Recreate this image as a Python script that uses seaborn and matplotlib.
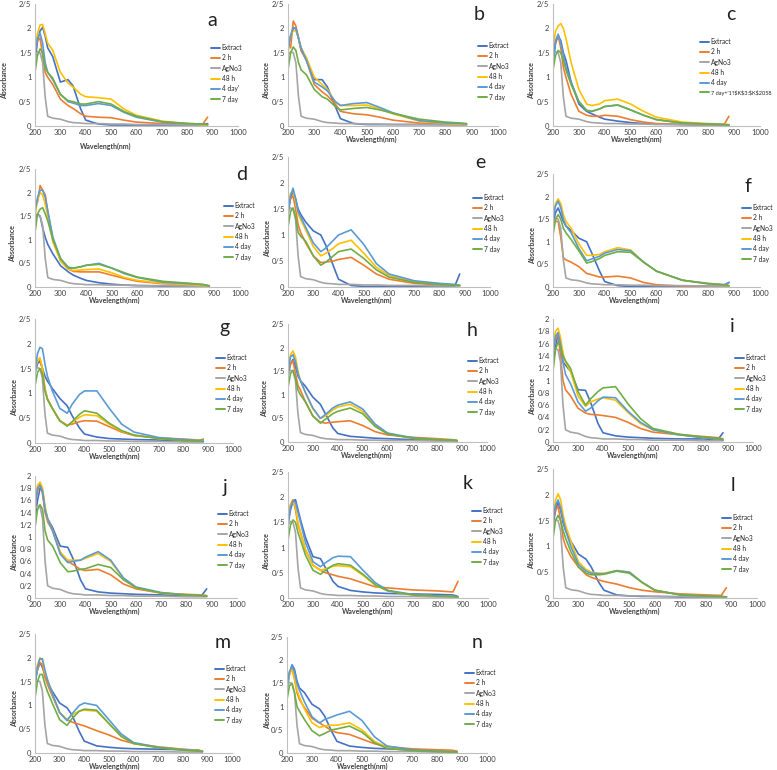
import numpy as np
import pandas as pd
import matplotlib.pyplot as plt
from matplotlib.lines import Line2D
import seaborn as sns

# wavelength grid (nm) the values were read at
WL = [200, 210, 220, 230, 240, 250, 270, 300, 330, 350, 380, 400, 450, 500, 550, 600, 700, 800, 860, 880]
SERIES = ["Extract", "2 h", "AgNo3", "48 h", "4 day", "7 day"]
COLORS = ["#4472C4", "#ED7D31", "#A5A5A5", "#FFC000", "#5B9BD5", "#70AD47"]

# silver nitrate control, same in every panel
AGNO3 = [1.45, 1.52, 1.5, 1.3, 0.6, 0.2, 0.16, 0.14, 0.09, 0.07, 0.06, 0.05, 0.05, 0.04, 0.04, 0.03, 0.03, 0.02, 0.02, 0.02]

panel_a = {
    "Extract": [1.3, 1.75, 1.95, 2.02, 1.85, 1.6, 1.42, 0.9, 0.95, 0.82, 0.35, 0.12, 0.04, 0.02, 0.02, 0.02, 0.02, 0.02, 0.03, 0.05],
    "2 h": [1.5, 1.75, 1.8, 1.45, 1.1, 1.0, 0.85, 0.55, 0.42, 0.36, 0.25, 0.2, 0.18, 0.17, 0.12, 0.08, 0.05, 0.04, 0.03, 0.18],
    "48 h": [1.6, 1.9, 2.07, 2.08, 1.9, 1.7, 1.55, 1.1, 0.88, 0.8, 0.65, 0.6, 0.58, 0.55, 0.35, 0.22, 0.1, 0.05, 0.03, 0.02],
    "4 day": [1.5, 1.8, 1.9, 1.7, 1.3, 1.1, 0.95, 0.65, 0.5, 0.47, 0.42, 0.42, 0.46, 0.42, 0.28, 0.18, 0.08, 0.05, 0.04, 0.03],
    "7 day": [1.1, 1.45, 1.58, 1.5, 1.2, 1.1, 0.98, 0.65, 0.52, 0.5, 0.45, 0.45, 0.5, 0.45, 0.3, 0.2, 0.09, 0.05, 0.04, 0.03],
}
panel_b = {
    "Extract": [1.6, 1.85, 2.0, 2.0, 1.8, 1.55, 1.35, 0.95, 0.95, 0.8, 0.4, 0.15, 0.05, 0.03, 0.03, 0.03, 0.03, 0.03, 0.03, 0.03],
    "2 h": [1.75, 1.6, 2.15, 2.05, 1.8, 1.55, 1.35, 0.85, 0.7, 0.62, 0.45, 0.3, 0.25, 0.23, 0.18, 0.12, 0.06, 0.04, 0.03, 0.03],
    "48 h": [1.5, 1.85, 1.95, 1.95, 1.8, 1.6, 1.4, 1.0, 0.85, 0.75, 0.5, 0.42, 0.42, 0.43, 0.35, 0.25, 0.1, 0.05, 0.04, 0.03],
    "4 day": [1.55, 1.85, 2.02, 2.0, 1.8, 1.6, 1.35, 0.9, 0.8, 0.72, 0.5, 0.42, 0.46, 0.48, 0.38, 0.27, 0.11, 0.06, 0.05, 0.04],
    "7 day": [1.15, 1.5, 1.62, 1.55, 1.3, 1.15, 1.05, 0.75, 0.6, 0.55, 0.4, 0.33, 0.36, 0.38, 0.33, 0.26, 0.14, 0.08, 0.06, 0.05],
}
panel_c = {
    "Extract": [1.3, 1.7, 1.85, 1.75, 1.5, 1.35, 0.9, 0.45, 0.3, 0.25, 0.18, 0.14, 0.1, 0.07, 0.05, 0.04, 0.03, 0.02, 0.02, 0.02],
    "2 h": [1.5, 1.75, 1.85, 1.6, 1.2, 1.0, 0.65, 0.3, 0.22, 0.2, 0.2, 0.22, 0.2, 0.13, 0.08, 0.05, 0.03, 0.02, 0.02, 0.2],
    "48 h": [1.6, 1.95, 2.05, 2.1, 2.0, 1.8, 1.3, 0.75, 0.45, 0.42, 0.45, 0.52, 0.55, 0.45, 0.3, 0.18, 0.08, 0.05, 0.04, 0.03],
    "4 day": [1.3, 1.75, 1.88, 1.7, 1.45, 1.2, 0.9, 0.5, 0.32, 0.3, 0.35, 0.4, 0.43, 0.33, 0.22, 0.13, 0.06, 0.04, 0.03, 0.02],
    "7 day": [1.15, 1.45, 1.55, 1.5, 1.35, 1.15, 0.85, 0.5, 0.32, 0.3, 0.35, 0.4, 0.43, 0.33, 0.22, 0.13, 0.06, 0.04, 0.03, 0.02],
}
panel_d = {
    "Extract": [1.45, 1.55, 1.5, 1.25, 1.05, 0.9, 0.7, 0.45, 0.32, 0.25, 0.18, 0.14, 0.09, 0.06, 0.04, 0.03, 0.02, 0.02, 0.02, 0.02],
    "2 h": [1.7, 1.8, 2.15, 2.05, 1.95, 1.6, 1.0, 0.55, 0.38, 0.33, 0.32, 0.32, 0.32, 0.25, 0.18, 0.12, 0.07, 0.05, 0.04, 0.03],
    "48 h": [1.5, 1.85, 2.0, 1.95, 1.75, 1.5, 0.95, 0.55, 0.38, 0.35, 0.36, 0.37, 0.38, 0.3, 0.2, 0.14, 0.08, 0.05, 0.03, 0.02],
    "4 day": [1.6, 1.9, 2.05, 2.05, 1.9, 1.6, 1.05, 0.6, 0.42, 0.4, 0.43, 0.46, 0.5, 0.4, 0.28, 0.2, 0.1, 0.07, 0.05, 0.02],
    "7 day": [1.15, 1.55, 1.65, 1.68, 1.55, 1.4, 1.0, 0.6, 0.4, 0.4, 0.43, 0.46, 0.48, 0.4, 0.3, 0.21, 0.12, 0.08, 0.05, 0.02],
}
panel_e = {
    "Extract": [1.4, 1.7, 1.85, 1.7, 1.5, 1.4, 1.25, 1.08, 1.0, 0.8, 0.4, 0.15, 0.03, 0.01, 0.01, 0.01, 0.01, 0.01, 0.01, 0.25],
    "2 h": [1.55, 1.7, 1.75, 1.5, 1.2, 1.05, 0.85, 0.6, 0.47, 0.48, 0.5, 0.53, 0.57, 0.42, 0.25, 0.15, 0.07, 0.04, 0.03, 0.03],
    "48 h": [1.5, 1.8, 1.85, 1.65, 1.4, 1.3, 1.1, 0.78, 0.6, 0.65, 0.75, 0.83, 0.9, 0.65, 0.38, 0.22, 0.1, 0.06, 0.04, 0.03],
    "4 day": [1.45, 1.75, 1.9, 1.7, 1.45, 1.35, 1.15, 0.85, 0.68, 0.75, 0.9, 1.0, 1.1, 0.82, 0.45, 0.25, 0.12, 0.07, 0.05, 0.03],
    "7 day": [1.15, 1.45, 1.52, 1.35, 1.05, 0.98, 0.88, 0.6, 0.42, 0.48, 0.6, 0.68, 0.73, 0.55, 0.33, 0.19, 0.09, 0.05, 0.03, 0.03],
}
panel_f = {
    "Extract": [1.4, 1.65, 1.75, 1.6, 1.45, 1.35, 1.25, 1.08, 1.0, 0.75, 0.35, 0.12, 0.03, 0.01, 0.01, 0.01, 0.01, 0.01, 0.01, 0.1],
    "2 h": [1.4, 1.45, 1.45, 1.1, 0.65, 0.6, 0.55, 0.45, 0.3, 0.27, 0.22, 0.22, 0.24, 0.2, 0.1, 0.05, 0.02, 0.02, 0.02, 0.02],
    "48 h": [1.55, 1.85, 1.95, 1.85, 1.6, 1.45, 1.3, 0.95, 0.7, 0.7, 0.72, 0.78, 0.87, 0.82, 0.55, 0.35, 0.15, 0.07, 0.05, 0.03],
    "4 day": [1.5, 1.8, 1.9, 1.75, 1.5, 1.35, 1.2, 0.85, 0.58, 0.62, 0.68, 0.75, 0.83, 0.8, 0.55, 0.35, 0.15, 0.07, 0.05, 0.1],
    "7 day": [1.15, 1.5, 1.6, 1.5, 1.3, 1.2, 1.05, 0.8, 0.53, 0.56, 0.63, 0.7, 0.78, 0.77, 0.55, 0.35, 0.15, 0.08, 0.05, 0.03],
}
panel_g = {
    "Extract": [1.4, 1.6, 1.65, 1.5, 1.35, 1.25, 1.1, 0.9, 0.75, 0.55, 0.3, 0.18, 0.12, 0.09, 0.08, 0.07, 0.06, 0.04, 0.03, 0.03],
    "2 h": [1.5, 1.65, 1.7, 1.5, 1.1, 0.9, 0.7, 0.45, 0.36, 0.38, 0.43, 0.45, 0.44, 0.33, 0.22, 0.15, 0.1, 0.08, 0.06, 0.05],
    "48 h": [1.5, 1.65, 1.72, 1.5, 1.1, 0.88, 0.7, 0.45, 0.35, 0.42, 0.52, 0.57, 0.55, 0.38, 0.24, 0.16, 0.09, 0.06, 0.05, 0.03],
    "4 day": [1.45, 1.8, 1.93, 1.9, 1.6, 1.35, 1.05, 0.7, 0.6, 0.78, 0.98, 1.05, 1.05, 0.7, 0.38, 0.22, 0.11, 0.07, 0.05, 0.03],
    "7 day": [1.15, 1.42, 1.5, 1.4, 1.05, 0.88, 0.7, 0.45, 0.34, 0.43, 0.58, 0.65, 0.6, 0.4, 0.25, 0.16, 0.09, 0.05, 0.04, 0.08],
}
panel_h = {
    "Extract": [1.4, 1.65, 1.75, 1.6, 1.4, 1.3, 1.18, 0.95, 0.8, 0.6, 0.3, 0.18, 0.12, 0.1, 0.08, 0.07, 0.05, 0.04, 0.03, 0.02],
    "2 h": [1.5, 1.65, 1.72, 1.45, 1.2, 1.1, 0.85, 0.55, 0.42, 0.4, 0.42, 0.43, 0.45, 0.35, 0.22, 0.15, 0.1, 0.07, 0.05, 0.03],
    "48 h": [1.55, 1.85, 1.93, 1.8, 1.5, 1.3, 1.05, 0.7, 0.5, 0.55, 0.68, 0.74, 0.8, 0.65, 0.35, 0.18, 0.08, 0.05, 0.04, 0.03],
    "4 day": [1.5, 1.8, 1.85, 1.7, 1.45, 1.3, 1.05, 0.72, 0.5, 0.58, 0.72, 0.78, 0.85, 0.7, 0.38, 0.19, 0.09, 0.05, 0.04, 0.03],
    "7 day": [1.15, 1.45, 1.52, 1.35, 1.1, 1.0, 0.85, 0.55, 0.4, 0.48, 0.6, 0.65, 0.72, 0.6, 0.33, 0.17, 0.08, 0.05, 0.04, 0.03],
}
panel_i = {
    "Extract": [1.3, 1.55, 1.75, 1.55, 1.3, 1.25, 1.15, 0.85, 0.84, 0.65, 0.3, 0.15, 0.1, 0.08, 0.07, 0.06, 0.05, 0.05, 0.04, 0.15],
    "2 h": [1.45, 1.7, 1.75, 1.4, 1.0, 0.85, 0.75, 0.55, 0.47, 0.45, 0.44, 0.43, 0.4, 0.32, 0.22, 0.16, 0.12, 0.09, 0.07, 0.05],
    "48 h": [1.55, 1.8, 1.85, 1.7, 1.45, 1.3, 1.15, 0.75, 0.58, 0.65, 0.7, 0.72, 0.68, 0.48, 0.3, 0.2, 0.12, 0.07, 0.05, 0.03],
    "4 day": [1.45, 1.72, 1.78, 1.6, 1.3, 1.1, 0.95, 0.65, 0.5, 0.55, 0.67, 0.73, 0.72, 0.5, 0.32, 0.2, 0.12, 0.07, 0.05, 0.03],
    "7 day": [1.15, 1.5, 1.63, 1.55, 1.4, 1.32, 1.2, 0.82, 0.6, 0.7, 0.82, 0.88, 0.9, 0.62, 0.38, 0.22, 0.13, 0.08, 0.06, 0.04],
}
panel_j = {
    "Extract": [1.3, 1.6, 1.8, 1.75, 1.45, 1.3, 1.15, 0.85, 0.83, 0.65, 0.3, 0.15, 0.1, 0.08, 0.07, 0.06, 0.05, 0.04, 0.04, 0.15],
    "2 h": [1.5, 1.75, 1.88, 1.7, 1.4, 1.25, 1.1, 0.75, 0.6, 0.55, 0.47, 0.45, 0.47, 0.38, 0.23, 0.15, 0.08, 0.06, 0.05, 0.04],
    "48 h": [1.55, 1.85, 1.9, 1.8, 1.5, 1.3, 1.1, 0.75, 0.62, 0.62, 0.62, 0.65, 0.73, 0.6, 0.32, 0.17, 0.08, 0.05, 0.04, 0.03],
    "4 day": [1.5, 1.8, 1.85, 1.75, 1.45, 1.3, 1.1, 0.72, 0.58, 0.6, 0.62, 0.67, 0.76, 0.62, 0.33, 0.18, 0.09, 0.05, 0.04, 0.03],
    "7 day": [1.15, 1.45, 1.53, 1.45, 1.1, 0.95, 0.85, 0.58, 0.43, 0.44, 0.47, 0.48, 0.55, 0.5, 0.3, 0.17, 0.08, 0.05, 0.04, 0.03],
}
panel_k = {
    "Extract": [1.45, 1.75, 1.92, 1.95, 1.75, 1.55, 1.2, 0.82, 0.78, 0.6, 0.33, 0.23, 0.15, 0.12, 0.1, 0.09, 0.08, 0.07, 0.06, 0.03],
    "2 h": [1.55, 1.85, 1.95, 1.75, 1.45, 1.3, 0.95, 0.65, 0.55, 0.5, 0.46, 0.43, 0.38, 0.3, 0.22, 0.2, 0.16, 0.14, 0.12, 0.33],
    "48 h": [1.6, 1.85, 1.9, 1.8, 1.5, 1.3, 0.95, 0.65, 0.55, 0.58, 0.63, 0.64, 0.62, 0.45, 0.25, 0.14, 0.06, 0.04, 0.03, 0.02],
    "4 day": [1.5, 1.8, 1.92, 1.9, 1.7, 1.5, 1.1, 0.72, 0.62, 0.7, 0.8, 0.83, 0.82, 0.55, 0.3, 0.15, 0.07, 0.04, 0.03, 0.02],
    "7 day": [1.15, 1.45, 1.55, 1.5, 1.3, 1.15, 0.85, 0.55, 0.47, 0.55, 0.65, 0.68, 0.65, 0.47, 0.26, 0.14, 0.06, 0.04, 0.03, 0.02],
}
panel_l = {
    "Extract": [1.4, 1.7, 1.85, 1.7, 1.45, 1.3, 1.1, 0.85, 0.75, 0.6, 0.3, 0.15, 0.06, 0.04, 0.03, 0.03, 0.02, 0.02, 0.02, 0.02],
    "2 h": [1.5, 1.7, 1.78, 1.5, 1.15, 1.0, 0.8, 0.6, 0.45, 0.4, 0.35, 0.32, 0.27, 0.2, 0.15, 0.12, 0.08, 0.06, 0.05, 0.2],
    "48 h": [1.55, 1.9, 2.02, 1.9, 1.6, 1.4, 1.1, 0.7, 0.55, 0.5, 0.48, 0.48, 0.53, 0.5, 0.3, 0.15, 0.06, 0.04, 0.03, 0.02],
    "4 day": [1.5, 1.8, 1.9, 1.75, 1.5, 1.3, 1.0, 0.65, 0.52, 0.48, 0.47, 0.47, 0.53, 0.5, 0.3, 0.15, 0.06, 0.04, 0.03, 0.02],
    "7 day": [1.15, 1.5, 1.6, 1.5, 1.3, 1.15, 0.9, 0.6, 0.48, 0.45, 0.45, 0.46, 0.52, 0.48, 0.3, 0.15, 0.06, 0.04, 0.03, 0.02],
}
panel_m = {
    "Extract": [1.45, 1.75, 1.9, 1.8, 1.65, 1.5, 1.3, 1.05, 0.95, 0.8, 0.45, 0.25, 0.15, 0.12, 0.1, 0.09, 0.08, 0.07, 0.06, 0.04],
    "2 h": [1.55, 1.75, 1.9, 1.85, 1.6, 1.45, 1.2, 0.85, 0.7, 0.65, 0.6, 0.57, 0.47, 0.38, 0.27, 0.2, 0.13, 0.08, 0.06, 0.04],
    "48 h": [1.55, 1.85, 2.0, 1.95, 1.7, 1.55, 1.25, 0.85, 0.7, 0.8, 0.88, 0.9, 0.88, 0.62, 0.35, 0.2, 0.12, 0.07, 0.05, 0.03],
    "4 day": [1.5, 1.8, 1.98, 1.98, 1.75, 1.55, 1.25, 0.85, 0.68, 0.82, 1.0, 1.05, 1.0, 0.7, 0.4, 0.22, 0.12, 0.07, 0.05, 0.03],
    "7 day": [1.15, 1.5, 1.65, 1.65, 1.45, 1.3, 1.05, 0.7, 0.58, 0.72, 0.88, 0.92, 0.9, 0.62, 0.35, 0.2, 0.11, 0.06, 0.04, 0.03],
}
panel_n = {
    "Extract": [1.35, 1.7, 1.9, 1.8, 1.55, 1.4, 1.3, 1.05, 0.95, 0.8, 0.45, 0.25, 0.15, 0.12, 0.1, 0.09, 0.07, 0.05, 0.04, 0.03],
    "2 h": [1.5, 1.75, 1.83, 1.6, 1.3, 1.15, 0.98, 0.75, 0.65, 0.58, 0.48, 0.44, 0.4, 0.3, 0.2, 0.14, 0.09, 0.07, 0.06, 0.04],
    "48 h": [1.45, 1.7, 1.8, 1.6, 1.35, 1.2, 0.95, 0.65, 0.55, 0.58, 0.6, 0.6, 0.65, 0.5, 0.25, 0.12, 0.06, 0.04, 0.03, 0.02],
    "4 day": [1.45, 1.75, 1.88, 1.75, 1.5, 1.35, 1.1, 0.78, 0.65, 0.72, 0.78, 0.82, 0.9, 0.7, 0.35, 0.15, 0.07, 0.04, 0.03, 0.02],
    "7 day": [1.15, 1.45, 1.5, 1.3, 1.0, 0.9, 0.72, 0.48, 0.37, 0.42, 0.5, 0.52, 0.58, 0.45, 0.22, 0.1, 0.05, 0.03, 0.02, 0.02],
}

PANELS = {"a": panel_a, "b": panel_b, "c": panel_c, "d": panel_d, "e": panel_e,
          "f": panel_f, "g": panel_g, "h": panel_h, "i": panel_i, "j": panel_j,
          "k": panel_k, "l": panel_l, "m": panel_m, "n": panel_n}

# legend text that differs from the series name in a few panels
LABEL_FIX = {"a": {"4 day": "4 day'"}, "c": {"7 day": r"7 day+'1'!\$K\$3:\$K\$2058"}}
# panels whose y axis tops out at 2 with 0.2 steps
Y2_PANELS = ["i", "j"]

# pixel layout: plot rect (left, top, right, bottom), legend (x, y of first row),
# letter centre, xlabel centre, ylabel x
LAYOUT = {
    "a": ((35, 4, 238, 126), (211, 48), (212, 20), (106, 146), 5),
    "b": ((288, 4, 498, 126), (478, 46), (479, 15), (372, 139), 267),
    "c": ((553, 4, 760, 126), (700, 42), (731, 15), (637, 139), 532),
    "d": ((35, 169, 240, 287), (224, 206), (242, 174), (115, 300), 13),
    "e": ((288, 157, 490, 287), (473, 198), (480, 162), (367, 300), 268),
    "f": ((553, 174, 760, 287), (742, 208), (748, 187), (635, 300), 533),
    "g": ((35, 319, 233, 443), (216, 358), (224, 328), (115, 456), 15),
    "h": ((288, 324, 487, 442), (468, 361), (472, 330), (367, 455), 265),
    "i": ((553, 319, 753, 442), (735, 358), (732, 326), (633, 455), 533),
    "j": ((35, 476, 237, 598), (218, 514), (225, 488), (115, 611), 15),
    "k": ((288, 472, 488, 598), (472, 511), (468, 483), (368, 611), 267),
    "l": ((553, 469, 757, 598), (722, 518), (733, 485), (635, 611), 532),
    "m": ((35, 634, 232, 753), (215, 669), (223, 643), (115, 766), 15),
    "n": ((287, 637, 487, 753), (465, 673), (477, 642), (363, 766), 268),
}

W, H = 777, 770
sns.set_style("white")
plt.rcParams["font.family"] = ["Lato", "DejaVu Sans"]

fig = plt.figure(figsize=(W / 100, H / 100), dpi=100)
fig.patch.set_facecolor("white")


def fx(x):
    return x / W


def fy(y):
    return 1 - y / H


for key, data in PANELS.items():
    (l, t, r, b), (lx, ly), (tx, ty), (xlx, xly), ylx = LAYOUT[key]
    ax = fig.add_axes([fx(l), fy(b), (r - l) / W, (b - t) / H])

    labels = [LABEL_FIX.get(key, {}).get(s, s) for s in SERIES]
    rows = []
    for name, label in zip(SERIES, labels):
        vals = AGNO3 if name == "AgNo3" else data[name]
        rows += [(w, v, label) for w, v in zip(WL, vals)]
    df = pd.DataFrame(rows, columns=["wl", "absorb", "series"])

    sns.lineplot(data=df, x="wl", y="absorb", hue="series", hue_order=labels,
                 palette=dict(zip(labels, COLORS)), lw=1.2, ax=ax, legend=False)

    if key in Y2_PANELS:
        ymax, step = 2.0, 0.2
    else:
        ymax, step = 2.5, 0.5
    ticks = [round(v, 1) for v in np.arange(0, ymax + 0.001, step)]
    ax.set_xlim(200, 1000)
    ax.set_ylim(0, ymax)
    ax.set_xticks(range(200, 1001, 100))
    ax.set_yticks(ticks)
    ax.set_yticklabels([f"{v:g}".replace(".", "/") for v in ticks])
    ax.set_xlabel("")
    ax.set_ylabel("")
    ax.tick_params(length=0, labelsize=5.5, pad=2.5, colors="#404040")
    sns.despine(ax=ax)
    for side in ["left", "bottom"]:
        ax.spines[side].set_color("#BFBFBF")
        ax.spines[side].set_linewidth(0.8)
    ax.patch.set_alpha(0)

    handles = [Line2D([0], [0], color=c, lw=1.4) for c in COLORS]
    leg = ax.legend(handles, labels, loc="upper left",
                    bbox_to_anchor=(fx(lx), fy(ly - 4)), bbox_transform=fig.transFigure,
                    frameon=False, fontsize=4.8, handlelength=1.3, handletextpad=0.3,
                    labelspacing=0.5, borderpad=0, borderaxespad=0)
    # the long spreadsheet-reference label has to squeeze into the right margin
    for txt in leg.get_texts():
        if len(txt.get_text()) > 12:
            txt.set_fontsize(4.0)

    fig.text(fx(tx), fy(ty), key, fontsize=14, ha="center", va="center", color="#222222")
    fig.text(fx(xlx), fy(xly), "Wavelength(nm)", fontsize=5, fontweight="bold",
             ha="center", va="center", color="#404040")
    fig.text(fx(ylx), fy(b - 0.37 * (b - t)), "Absorbance", fontsize=5, fontweight="bold",
             rotation=90, ha="center", va="center", color="#404040")

fig.savefig("out.png", dpi=100, facecolor="white")
